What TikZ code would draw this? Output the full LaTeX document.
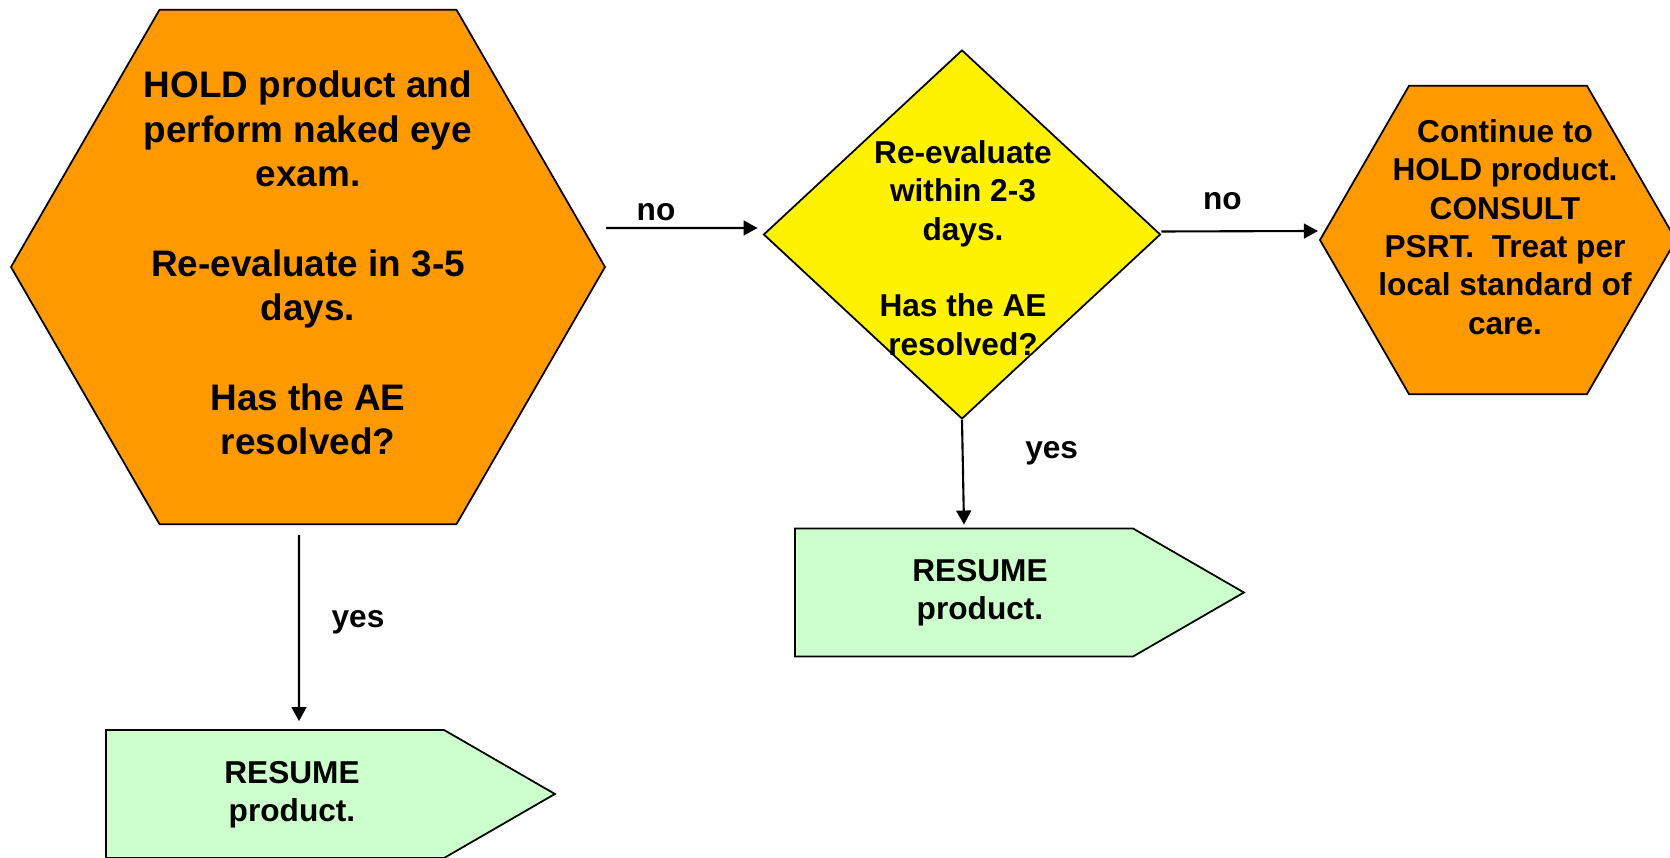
\documentclass[tikz,border=0pt]{standalone}
\usepackage{fontspec}
\setmainfont{Liberation Sans}
\usepackage{tikz}
\usetikzlibrary{shapes.geometric,shapes.symbols,arrows.meta}

\begin{document}
\begin{tikzpicture}[x=1cm,y=1cm,
  hexbox/.style={regular polygon,regular polygon sides=6,draw,line width=0.5pt,fill=orange!80!yellow,inner sep=0pt},
  askbox/.style={diamond,draw,line width=0.5pt,fill=yellow,inner sep=0pt},
  resumebox/.style={signal,signal to=east,signal pointer angle=60,draw,line width=0.5pt,fill=green!20,inner sep=0pt,minimum width=4.49cm,minimum height=1.28cm},
  bigtext/.style={align=center,font=\bfseries\fontsize{10.5}{12.7}\selectfont},
  smalltext/.style={align=center,font=\bfseries\fontsize{9}{10.9}\selectfont},
  flow/.style={-{Triangle[length=4pt,width=4.2pt]},line width=0.6pt},
  answer/.style={font=\bfseries\fontsize{9}{10.9}\selectfont}]
\useasboundingbox (0,0) rectangle (16.70,-8.58);
% first check
\node[hexbox,minimum size=5.94cm] (hold) at (3.08,-2.67) {};
\node[bigtext] (holdtext) at (3.08,-2.63) {HOLD product and\\perform naked eye\\exam.\\[12.7pt]Re-evaluate in 3-5\\days.\\[12.7pt]Has the AE\\resolved?};
% second check
\node[askbox,minimum width=3.97cm,minimum height=3.69cm] (recheck) at (9.62,-2.345) {};
\node[smalltext] (rechecktext) at (9.63,-2.48) {Re-evaluate\\within 2-3\\days.\\[10.9pt]Has the AE\\resolved?};
% still not resolved
\node[hexbox,minimum size=3.56cm] (consult) at (14.98,-2.40) {};
\node[smalltext] (consulttext) at (15.05,-2.27) {Continue to\\HOLD product.\\CONSULT\\PSRT.\ \ Treat per\\local standard of\\care.};
% resolved
\node[resumebox] (resumeA) at (2.75,-7.94) {};
\node[smalltext] (resumeAtext) at (2.92,-7.95) {RESUME\\product.};
\node[resumebox] (resumeB) at (9.64,-5.925) {};
\node[smalltext] (resumeBtext) at (9.80,-5.93) {RESUME\\product.};
% connectors
\draw[flow] ([yshift=3.9mm]hold.east) -- ([xshift=-0.5mm,yshift=0.65mm]recheck.west) node[answer,pos=0.33,yshift=1.6mm] (noA) {no};
\draw[flow] ([yshift=0.3mm]recheck.east) -- ([xshift=-0.1mm,yshift=0.9mm]consult.west) node[answer,pos=0.39,yshift=3mm] (noB) {no};
\draw[flow] ([xshift=-0.9mm,yshift=-1mm]hold.south) -- ([xshift=2.4mm,yshift=0.8mm]resumeA.north) node[answer,pos=0.47,xshift=5.9mm] (yesA) {yes};
\draw[flow] (recheck.south) -- ([yshift=0.3mm]resumeB.north) node[answer,pos=0.32,xshift=8.9mm] (yesB) {yes};
\end{tikzpicture}
\end{document}
